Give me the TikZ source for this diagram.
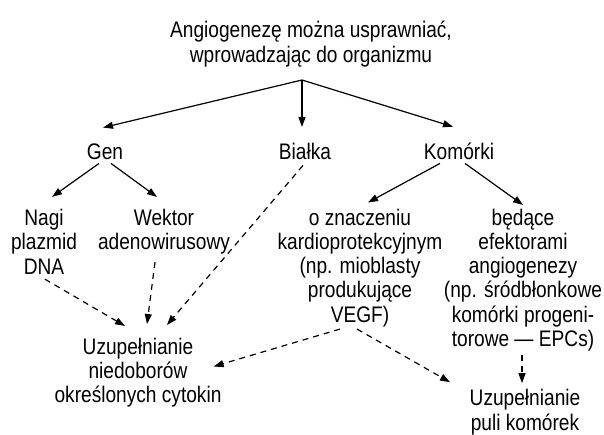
\documentclass[tikz,border=0pt]{standalone}
\usepackage{fontspec}
\setmainfont{Liberation Sans}[FakeStretch=0.85]
\usetikzlibrary{arrows.meta}

\begin{document}
\begin{tikzpicture}[x=1pt, y=-1pt,
  every node/.style={font=\fontsize{22.5}{24.3}\selectfont, align=center, inner sep=0pt, anchor=base},
  arr/.style={-{Triangle[length=10pt, width=7pt]}, line width=1.2pt},
  dasharr/.style={arr, dash pattern=on 6pt off 5pt}]
  \useasboundingbox (0,0) rectangle (604,434);

  % Top (nodes sit on the baseline of their last line)
  \node (title) at (311,62) {Angiogenezę można usprawniać,\\ wprowadzając do organizmu};
  \coordinate (apex) at (302,80);

  % First level
  \node (gen) at (105,159) {Gen};
  \node (bialka) at (305,159) {Białka};
  \node (komorki) at (459,159) {Komórki};

  \draw [arr] (apex) -- ([xshift=-2pt, yshift=15.5pt]gen.north);
  \draw [arr] (apex) -- ([xshift=-3pt, yshift=15.5pt]bialka.north);
  \draw [arr] (apex) -- ([xshift=-6pt, yshift=15.5pt]komorki.north);

  % Second level
  \node (nagi) at (44,274) {Nagi\\ plazmid\\ DNA};
  \node (wektor) at (164,249.3) {Wektor\\ adenowirusowy};
  \node (kardio) at (360,322.2) {o znaczeniu\\ kardioprotekcyjnym\\ (np. mioblasty\\ produkujące\\ VEGF)};
  \node (efekt) at (523,346.5) {będące\\ efektorami\\ angiogenezy\\ (np. śródbłonkowe\\ komórki progeni-\\ torowe — EPCs)};

  \draw [arr] ([xshift=-6pt, yshift=-4pt]gen.south) -- ([xshift=8pt, yshift=12pt]nagi.north);
  \draw [arr] ([xshift=6pt, yshift=-4pt]gen.south) -- ([xshift=-7pt, yshift=11.5pt]wektor.north);
  \draw [arr] ([xshift=-19pt, yshift=-4pt]komorki.south) -- ([xshift=8pt, yshift=6pt]kardio.north);
  \draw [arr] ([xshift=6pt, yshift=-4pt]komorki.south) -- ([xshift=0pt, yshift=3.5pt]efekt.north);

  % Results
  \node (cytokin) at (138,402.6) {Uzupełnianie\\ niedoborów\\ określonych cytokin};
  \node (puli) at (525,430) {Uzupełnianie\\ puli komórek};

  \draw [dasharr] ([xshift=1pt, yshift=-5pt]nagi.south) -- ([xshift=-13pt, yshift=11.5pt]cytokin.north);
  \draw [dasharr] ([xshift=-9pt, yshift=-8pt]wektor.south) -- ([xshift=9pt, yshift=13.5pt]cytokin.north);
  \draw [dasharr] ([xshift=-2pt, yshift=-6pt]bialka.south) -- ([xshift=29pt, yshift=12.5pt]cytokin.north);
  \draw [dasharr] ([xshift=-20pt, yshift=-2pt]kardio.south) -- ([xshift=-8pt, yshift=6pt]cytokin.east);
  \draw [dasharr] ([xshift=-3pt, yshift=-2pt]kardio.south) -- ([xshift=-75pt, yshift=7pt]puli.north);
  \draw [dasharr] ([xshift=-1pt, yshift=-4pt]efekt.south) -- ([xshift=-3pt, yshift=6pt]puli.north);
\end{tikzpicture}
\end{document}
